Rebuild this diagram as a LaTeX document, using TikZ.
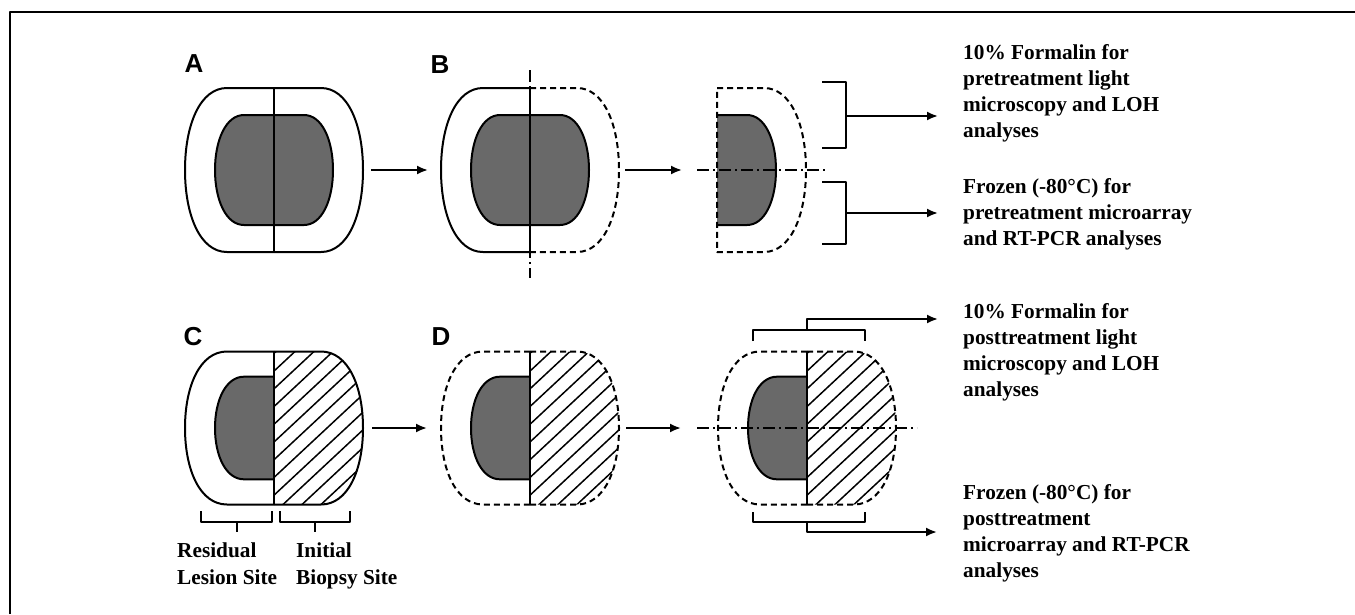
\documentclass[tikz,border=0pt]{standalone}
\usepackage{fontspec}
\setmainfont{Liberation Serif}
\newfontfamily\lsans{Liberation Sans}
\usetikzlibrary{arrows.meta}
\definecolor{lesion}{RGB}{105,105,105}
\newcommand\OutR{(0,-82) -- (47,-82) .. controls (74,-82) and (89,-45) .. (89,0) .. controls (89,45) and (74,82) .. (47,82) -- (0,82)}
\newcommand\OutL{(0,-82) -- (-47,-82) .. controls (-74,-82) and (-89,-45) .. (-89,0) .. controls (-89,45) and (-74,82) .. (-47,82) -- (0,82)}
\newcommand\InR{(0,-55) -- (30,-55) .. controls (48,-55) and (59,-30) .. (59,0) .. controls (59,30) and (48,55) .. (30,55) -- (0,55)}
\newcommand\InL{(0,-55) -- (-30,-55) .. controls (-48,-55) and (-59,-30) .. (-59,0) .. controls (-59,30) and (-48,55) .. (-30,55) -- (0,55)}
\newcommand\Hatch{\foreach \s in {-80,-61,...,180} {\draw[hatchline] (\s-100,100) -- (\s+100,-100);}}
\begin{document}
\begin{tikzpicture}[x=1pt,y=-1pt,line join=round,
  outline/.style={line width=2pt},
  dsh/.style={line width=2pt,dash pattern=on 6pt off 4pt},
  dashdot/.style={line width=1.7pt,dash pattern=on 12pt off 4pt on 2pt off 4pt},
  hatchline/.style={line width=1.5pt},
  arr/.style={line width=2pt,-{Latex[length=11pt,width=9pt]}},
  brk/.style={line width=2pt},
  lbl/.style={font=\lsans\bfseries\fontsize{26}{30}\selectfont,inner sep=0},
  txt/.style={font=\bfseries\fontsize{21.3}{26.2}\selectfont,align=left,anchor=north west,inner sep=0}]
\useasboundingbox (0,0) rectangle (1355,614);
\draw[line width=1.8pt] (10,614) -- (10,12) -- (1355,12);

% panel labels
\node[lbl] (lA) at (194,64) {A};
\node[lbl] (lB) at (440,65) {B};
\node[lbl] (lC) at (193,337) {C};
\node[lbl] (lD) at (441,337) {D};

% A
\begin{scope}[shift={(274,170)}]
  \fill[lesion] \InL -- cycle; \fill[lesion] \InR -- cycle;
  \draw[outline] \InL; \draw[outline] \InR;
  \draw[outline] \OutL; \draw[outline] \OutR;
  \draw[outline] (0,-82) -- (0,82);
\end{scope}
% B
\begin{scope}[shift={(530,170)}]
  \fill[lesion] \InL -- cycle; \fill[lesion] \InR -- cycle;
  \draw[outline] \InL; \draw[outline] \InR;
  \draw[outline] \OutL; \draw[dsh] \OutR;
  \draw[outline] (0,-82) -- (0,82);
  \draw[dashdot] (0,-100) -- (0,108);
\end{scope}
% top right half
\begin{scope}[shift={(717,170)}]
  \fill[lesion] \InR -- cycle;
  \draw[outline] \InR;
  \draw[dsh] \OutR -- cycle;
  \draw[dashdot] (-20,0) -- (110,0);
\end{scope}
% C
\begin{scope}[shift={(274,428)},yscale=0.933]
  \fill[lesion] \InL -- cycle; \draw[outline] \InL;
  \begin{scope}\clip \OutR -- cycle; \Hatch \end{scope}
  \draw[outline] \OutL; \draw[outline] \OutR;
  \draw[outline] (0,-82) -- (0,82);
\end{scope}
% D
\begin{scope}[shift={(530,428)},yscale=0.933]
  \fill[lesion] \InL -- cycle; \draw[outline] \InL;
  \begin{scope}\clip \OutR -- cycle; \Hatch \end{scope}
  \draw[dsh] \OutL; \draw[dsh] \OutR;
  \draw[outline] (0,-82) -- (0,82);
\end{scope}
% bottom right
\begin{scope}[shift={(807,428)},yscale=0.933]
  \fill[lesion] \InL -- cycle; \draw[outline] \InL;
  \begin{scope}\clip \OutR -- cycle; \Hatch \end{scope}
  \draw[dsh] \OutL; \draw[dsh] \OutR;
  \draw[outline] (0,-82) -- (0,82);
  \draw[dashdot] (-110,0) -- (110,0);
\end{scope}

% process arrows
\coordinate (a1s) at (371,170); \coordinate (a1e) at (428,170);
\coordinate (a2s) at (625,170); \coordinate (a2e) at (682,170);
\coordinate (a3s) at (372,428); \coordinate (a3e) at (427,428);
\coordinate (a4s) at (626,428); \coordinate (a4e) at (681,428);
\draw[arr] (a1s) -- (a1e);
\draw[arr] (a2s) -- (a2e);
\draw[arr] (a3s) -- (a3e);
\draw[arr] (a4s) -- (a4e);

% brackets top
\draw[brk] (822,82) -- (846,82) -- (846,148) -- (822,148);
\draw[brk] (822,182) -- (846,182) -- (846,244) -- (822,244);
% brackets bottom
\draw[brk] (753,341) -- (753,330) -- (865,330) -- (865,341);
\draw[brk] (753,512) -- (753,522) -- (865,522) -- (865,512);
% brackets C
\draw[brk] (201,511) -- (201,522) -- (272,522) -- (272,511);
\draw[brk] (237,522) -- (237,532);
\draw[brk] (280,511) -- (280,522) -- (350,522) -- (350,511);
\draw[brk] (315,522) -- (315,532);

% texts
\node[txt] (t1) at (963,44) {10\% Formalin for\\pretreatment light\\microscopy and LOH\\analyses};
\node[txt] (t2) at (963,178) {Frozen (-80°C) for\\pretreatment microarray\\and RT-PCR analyses};
\node[txt] (t3) at (963,303) {10\% Formalin for\\posttreatment light\\microscopy and LOH\\analyses};
\node[txt] (t4) at (963,484) {Frozen (-80°C) for\\posttreatment\\microarray and RT-PCR\\analyses};
\node[txt] (t5) at (177,543) {Residual\\Lesion Site};
\node[txt] (t6) at (296,543) {Initial\\Biopsy Site};

% output arrows
\coordinate (b1) at (846,116); \coordinate (b2) at (846,213);
\coordinate (b3) at (807,330); \coordinate (b4) at (807,522);
\draw[arr] (b1) -- (938,116);
\draw[arr] (b2) -- (938,213);
\draw[arr] (b3) -- (807,319) -- (938,319);
\draw[arr] (b4) -- (807,532) -- (937,532);
\end{tikzpicture}
\end{document}
